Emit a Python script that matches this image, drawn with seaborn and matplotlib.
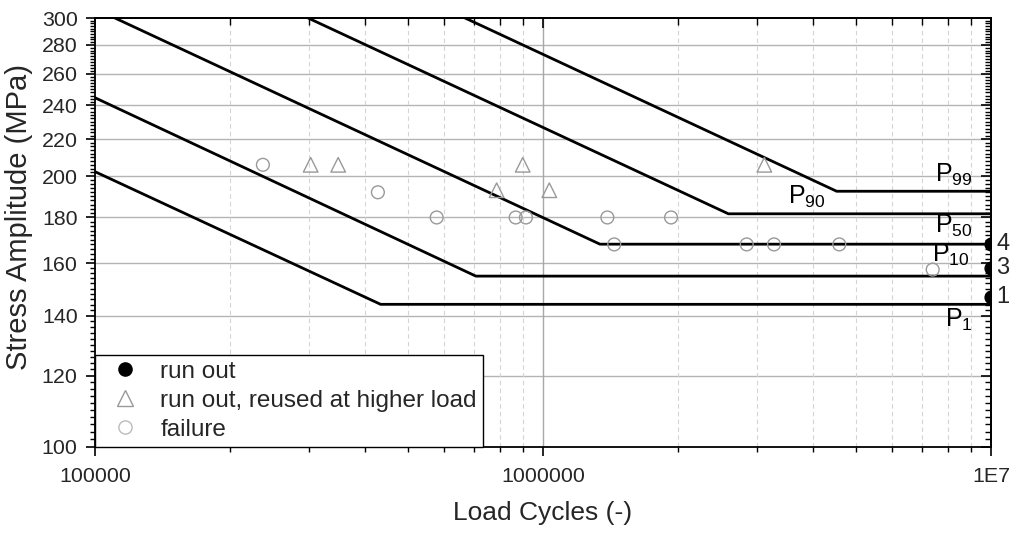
import numpy as np
import pandas as pd
import matplotlib
matplotlib.use("Agg")
import matplotlib.pyplot as plt
import seaborn as sns
from matplotlib.ticker import FixedLocator, FixedFormatter, LogLocator, NullFormatter
from matplotlib.lines import Line2D

# P-S-N curves: vertices (load cycles, stress amplitude) per survival probability
curve_names = ["P1", "P10", "P50", "P90", "P99"]
curve_cycles = [
    [1.0e5, 4.34e5, 1.0e7],
    [1.0e5, 7.08e5, 1.0e7],
    [1.108e5, 1.34e6, 1.0e7],
    [2.99e5, 2.593e6, 1.0e7],
    [6.70e5, 4.523e6, 1.0e7],
]
curve_stress = [
    [202.4, 144.1, 144.1],
    [244.6, 154.9, 154.9],
    [300.0, 168.1, 168.1],
    [300.0, 181.7, 181.7],
    [300.0, 192.5, 192.5],
]
curve_texts = [r"$\mathregular{P_{1}}$", r"$\mathregular{P_{10}}$", r"$\mathregular{P_{50}}$",
               r"$\mathregular{P_{90}}$", r"$\mathregular{P_{99}}$"]

# failed specimens
failure_cycles = [2.37e5, 4.28e5, 5.79e5, 8.69e5, 9.16e5, 1.392e6, 1.931e6,
                  1.442e6, 2.849e6, 3.278e6, 4.585e6, 7.41e6]
failure_stress = [206, 192, 180, 180, 180, 180, 180, 168, 168, 168, 168, 157.5]

# run outs that were reused at a higher load level
reused_cycles = [3.03e5, 3.49e5, 7.88e5, 9.01e5, 1.033e6, 3.119e6]
reused_stress = [206, 206, 193, 206, 193, 206]

# run outs at the limit cycle count, with number of specimens
runout_cycles = [1e7, 1e7, 1e7]
runout_stress = [168, 158, 147]
runout_count = [4, 3, 1]

y_ticks = [100, 120, 140, 160, 180, 200, 220, 240, 260, 280, 300]
x_ticks = [1e5, 1e6, 1e7]
x_ticklabels = ["100000", "1000000", "1E7"]

sns.set_theme(style="ticks")
plt.rcParams["font.family"] = ["Liberation Sans", "DejaVu Sans"]
plt.rcParams["mathtext.fontset"] = "custom"
plt.rcParams["mathtext.rm"] = "Liberation Sans"
plt.rcParams["mathtext.it"] = "Liberation Sans"

fig = plt.figure(figsize=(10.16, 5.33), dpi=100)
ax = fig.add_axes([0.0935, 0.1614, 0.8819, 0.8048])
ax.set_xscale("log")
ax.set_yscale("log")
ax.set_xlim(1e5, 1e7)
ax.set_ylim(100, 300)

# grid
for yv in y_ticks[1:-1]:
    ax.axhline(yv, color="#b4b4b4", lw=1.0, zorder=0)
for m in range(2, 10):
    for dec in (1e5, 1e6):
        ax.axvline(m * dec, color="#d4d4d4", lw=0.8, ls=(0, (4, 3)), zorder=0)
ax.axvline(1e6, color="#a8a8a8", lw=1.0, zorder=0)

# curves
curve_df = pd.DataFrame({
    "curve": np.repeat(curve_names, 3),
    "cycles": np.concatenate(curve_cycles),
    "stress": np.concatenate(curve_stress),
})
for name in curve_names:
    sub = curve_df[curve_df["curve"] == name]
    sns.lineplot(data=sub, x="cycles", y="stress", ax=ax, color="black", lw=2.0,
                 sort=False, estimator=None, zorder=3, legend=False)

# curve labels (cycles, stress baseline)
label_pos = [(7.89e6, 136.1), (7.4e6, 160.7), (7.5e6, 172.9), (3.53e6, 186.6), (7.5e6, 197.3)]
for txt, (cx, cy) in zip(curve_texts, label_pos):
    ax.text(cx, cy, txt, fontsize=18, ha="left", va="baseline", color="black", zorder=5)

# data points
sns.scatterplot(x=failure_cycles, y=failure_stress, ax=ax, marker="o", s=85,
                facecolor="none", edgecolor="#999999", linewidth=1.0, zorder=4)
sns.scatterplot(x=reused_cycles, y=reused_stress, ax=ax, marker="^", s=110,
                facecolor="none", edgecolor="#999999", linewidth=1.0, zorder=4)
sns.scatterplot(x=runout_cycles, y=runout_stress, ax=ax, marker="o", s=85,
                color="black", edgecolor="black", linewidth=1.0, zorder=6, clip_on=True)
for cx, cy, n in zip(runout_cycles, runout_stress, runout_count):
    ax.annotate(str(n), xy=(cx, cy), xytext=(4, 0), textcoords="offset points",
                fontsize=17, ha="left", va="center", annotation_clip=False)

# axes ticks
ax.xaxis.set_major_locator(FixedLocator(x_ticks))
ax.xaxis.set_major_formatter(FixedFormatter(x_ticklabels))
ax.xaxis.set_minor_locator(LogLocator(base=10, subs=np.arange(2, 10)))
ax.xaxis.set_minor_formatter(NullFormatter())
ax.yaxis.set_major_locator(FixedLocator(y_ticks))
ax.yaxis.set_major_formatter(FixedFormatter([str(v) for v in y_ticks]))
y_minor = [v for v in range(100, 301, 2) if v not in y_ticks]
ax.yaxis.set_minor_locator(FixedLocator(y_minor))
ax.yaxis.set_minor_formatter(NullFormatter())
ax.tick_params(which="major", direction="out", length=6.5, width=1.2, labelsize=15.4, color="black")
ax.tick_params(which="minor", direction="out", length=3.5, width=1.0, color="black")
ax.tick_params(axis="x", which="major", pad=8)
ax.tick_params(axis="y", which="major", pad=6)

top = ax.secondary_xaxis("top")
top.xaxis.set_major_locator(FixedLocator(x_ticks))
top.xaxis.set_minor_locator(LogLocator(base=10, subs=np.arange(2, 10)))
top.tick_params(which="major", direction="in", length=7, width=1.2, labeltop=False, color="black")
top.tick_params(which="minor", direction="in", length=5, width=1.0, color="black")
top.xaxis.set_minor_formatter(NullFormatter())

right = ax.secondary_yaxis("right")
right.yaxis.set_major_locator(FixedLocator(y_ticks))
right.yaxis.set_minor_locator(FixedLocator(y_minor))
right.tick_params(which="major", direction="in", length=7, width=1.2, labelright=False, color="black")
right.tick_params(which="minor", direction="in", length=4, width=1.0, color="black")
right.yaxis.set_minor_formatter(NullFormatter())

for sp in list(ax.spines.values()) + [top.spines["top"], right.spines["right"]]:
    sp.set_color("black")
    sp.set_linewidth(1.3)

ax.set_xlabel("Load Cycles (-)", fontsize=19, labelpad=11)
ax.set_ylabel("Stress Amplitude (MPa)", fontsize=21)
ax.yaxis.set_label_coords(-0.069, 0.536)

handles = [
    Line2D([], [], ls="none", marker="o", ms=9.5, mfc="black", mec="black"),
    Line2D([], [], ls="none", marker="^", ms=11.5, mfc="none", mec="#999999", mew=1.0),
    Line2D([], [], ls="none", marker="o", ms=9.5, mfc="none", mec="#bbbbbb", mew=1.0),
]
labels = ["run out", "run out, reused at higher load", "failure"]
leg = ax.legend(handles, labels, loc="lower left", borderaxespad=0, fontsize=17.5,
                frameon=True, fancybox=False, framealpha=1, edgecolor="black",
                handlelength=1.98, handletextpad=0.45, labelspacing=0.29,
                borderpad=0.25)
leg.get_frame().set_linewidth(1.0)
leg.set_zorder(10)

fig.savefig("out.png", dpi=100)
